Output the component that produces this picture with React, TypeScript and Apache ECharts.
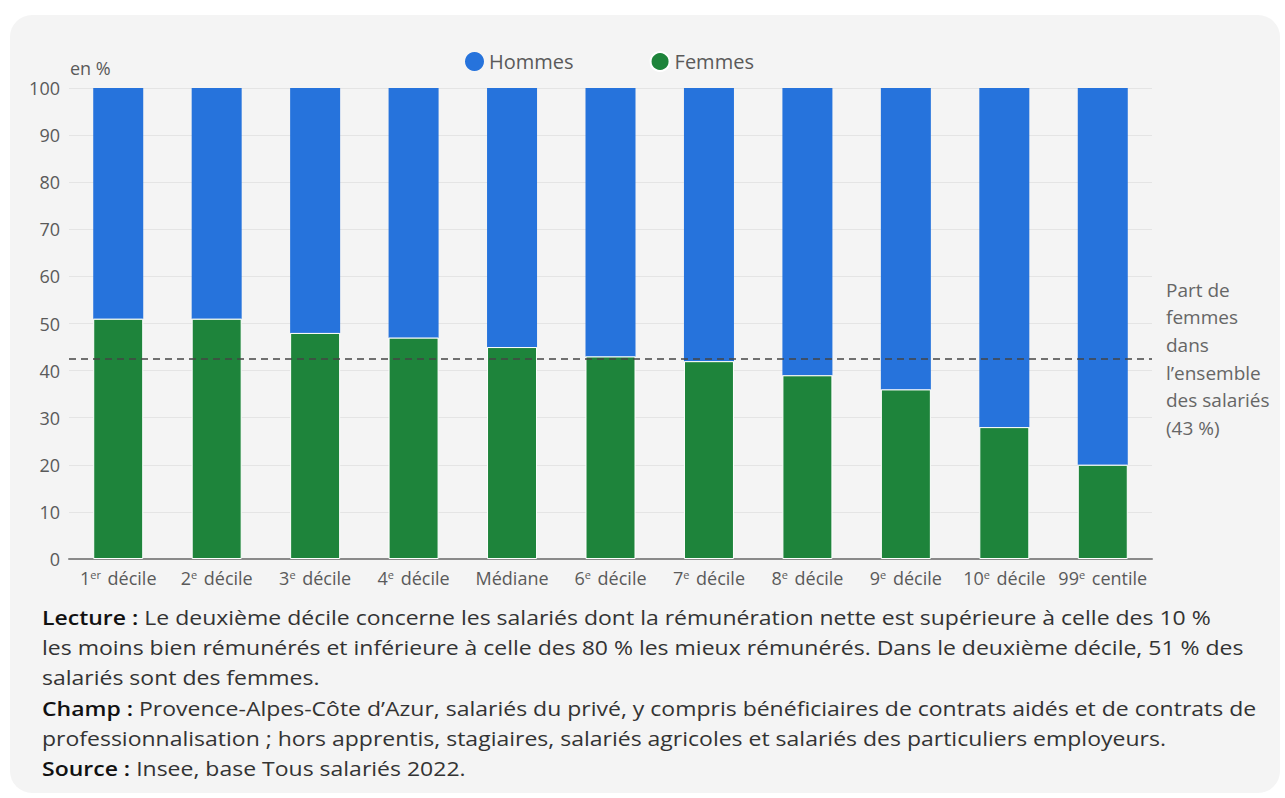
import React, { useEffect, useRef } from "react";
import * as echarts from "echarts";

const categories = [
  "1er décile",
  "2e décile",
  "3e décile",
  "4e décile",
  "Médiane",
  "6e décile",
  "7e décile",
  "8e décile",
  "9e décile",
  "10e décile",
  "99e centile",
];
const femmes = [51, 51, 48, 47, 45, 43, 42, 39, 36, 28, 20];
const hommes = [49, 49, 52, 53, 55, 57, 58, 61, 64, 72, 80];
const partFemmesEnsemble = 42.5;
const yTicks = { min: 0, max: 100, interval: 10 };

const noteLines = [
  "{b|Lecture :} Le deuxième décile concerne les salariés dont la rémunération nette est supérieure à celle des 10 %",
  "les moins bien rémunérés et inférieure à celle des 80 % les mieux rémunérés. Dans le deuxième décile, 51 % des",
  "salariés sont des femmes.",
  "{b|Champ :} Provence-Alpes-Côte d’Azur, salariés du privé, y compris bénéficiaires de contrats aidés et de contrats de",
  "professionnalisation ; hors apprentis, stagiaires, salariés agricoles et salariés des particuliers employeurs.",
  "{b|Source :} Insee, base Tous salariés 2022.",
];
const annotation = "Part de\nfemmes\ndans\nl’ensemble\ndes salariés\n(43 %)";

const FONT = "'Open Sans', sans-serif";
const BLUE = "#2673dc";
const GREEN = "#1e843b";
const GRAY = "#5a5a5a";

export default function App() {
  const ref = useRef<HTMLDivElement>(null);
  useEffect(() => {
    if (!ref.current) return;
    const chart = echarts.init(ref.current, undefined, { renderer: "svg" });
    chart.setOption({
      animation: false,
      backgroundColor: "#ffffff",
      textStyle: { fontFamily: FONT },
      grid: { left: 69, right: 133, top: 88, bottom: 239, containLabel: false },
      legend: {
        data: ["Hommes", "Femmes"],
        left: 460,
        top: 46,
        icon: "circle",
        itemWidth: 19,
        itemHeight: 19,
        itemGap: 76,
        textStyle: { fontSize: 20, color: GRAY, fontFamily: FONT },
      },
      xAxis: {
        type: "category",
        data: categories,
        axisTick: { show: false },
        axisLine: { lineStyle: { color: "#8a8a8a", width: 2 } },
        axisLabel: {
          color: GRAY,
          fontSize: 18,
          margin: 10,
          interval: 0,
          formatter: (v: string) => v.replace(/^(\d+)(er|e) /, "$1{sup|$2} "),
          rich: {
            sup: { fontSize: 11, color: GRAY, verticalAlign: "top", lineHeight: 12, padding: [0, 2, 0, 0] },
          },
        },
      },
      yAxis: {
        type: "value",
        min: yTicks.min,
        max: yTicks.max,
        interval: yTicks.interval,
        axisLabel: { color: GRAY, fontSize: 18, margin: 9 },
        splitLine: { lineStyle: { color: "#e4e4e4", width: 1 } },
        axisLine: { show: false },
        axisTick: { show: false },
      },
      series: [
        {
          name: "Femmes",
          type: "bar",
          stack: "total",
          barWidth: 50,
          data: femmes,
          itemStyle: { color: GREEN, borderColor: "#ffffff", borderWidth: 1 },
          markLine: {
            symbol: "none",
            silent: true,
            label: { show: false },
            lineStyle: { color: "#444444", type: [7, 5], width: 1.6 },
            data: [{ yAxis: partFemmesEnsemble }],
          },
          z: 3,
        },
        {
          name: "Hommes",
          type: "bar",
          stack: "total",
          barWidth: 50,
          data: hommes,
          itemStyle: { color: BLUE },
          z: 2,
        },
      ],
      color: [GREEN, BLUE],
      graphic: [
        {
          type: "rect",
          z: -10,
          silent: true,
          shape: { x: 10, y: 15, width: 1270, height: 778, r: 22 },
          style: { fill: "#f4f4f4" },
        },
        {
          type: "text",
          left: 70,
          top: 59,
          style: { text: "en %", fontSize: 18, fill: GRAY, fontFamily: FONT },
        },
        {
          type: "text",
          left: 1166,
          top: 276,
          style: { text: annotation, fontSize: 19, lineHeight: 27.6, fill: "#666666", fontFamily: FONT },
        },
        {
          type: "text",
          x: 42,
          y: 602,
          scaleX: 1.15,
          style: {
            text: noteLines.join("\n"),
            fontSize: 20,
            lineHeight: 30.2,
            fill: "#333333",
            fontFamily: FONT,
            rich: {
              b: { fontSize: 20, lineHeight: 30.2, fontWeight: 600, fill: "#111111", fontFamily: FONT },
            },
          },
        },
      ],
    });
    return () => chart.dispose();
  }, []);
  return (
    <div
      ref={ref}
      style={{ position: "fixed", left: 0, top: 0, width: 1285, height: 798 }}
    />
  );
}
